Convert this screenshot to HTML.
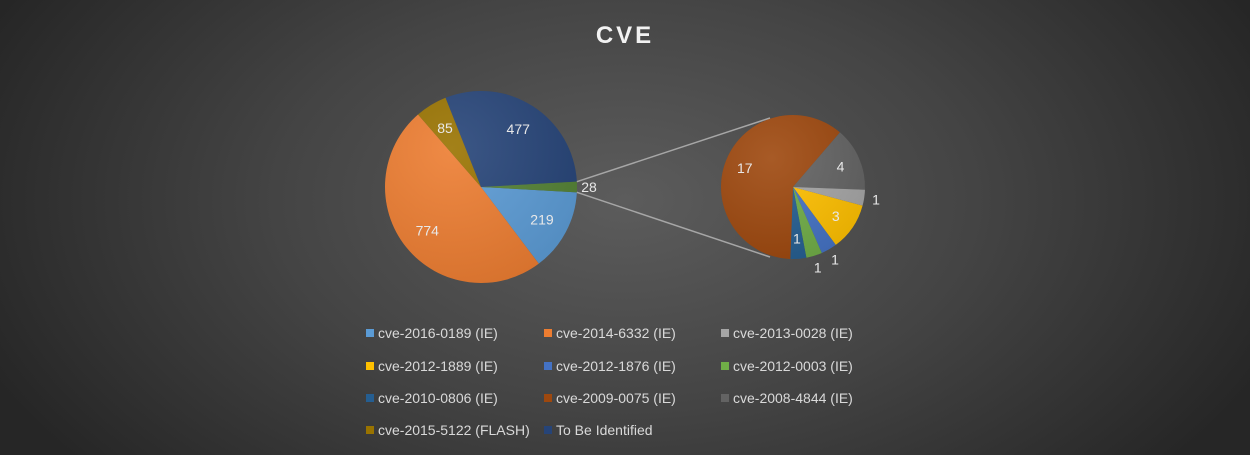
<!DOCTYPE html>
<html><head><meta charset="utf-8"><style>
html,body{margin:0;padding:0}
body{width:1250px;height:455px;overflow:hidden;font-family:"Liberation Sans",sans-serif;background:radial-gradient(ellipse 700px 420px at 625px 200px,#5c5c5c 0%,#444 50%,#262626 100%)}
svg{position:absolute;left:0;top:0}
</style></head><body>
<svg id="chart" width="1250" height="455">
<defs>
<radialGradient id="shine" cx="0.35" cy="0.3" r="0.8"><stop offset="0" stop-color="#fff" stop-opacity="0.1"/><stop offset="1" stop-color="#000" stop-opacity="0.1"/></radialGradient>
</defs>
<text x="625" y="43" text-anchor="middle" font-size="24" font-weight="bold" fill="#f2f2f2" letter-spacing="3">CVE</text>
<g id="main"></g><g id="sec"></g><g id="legend"></g>
</svg>
<script>
const mainLabels=["cve-2016-0189 (IE)","cve-2014-6332 (IE)","cve-2015-5122 (FLASH)","To Be Identified","Other"];
const mainValues=[219,774,85,477,28];
const mainColors=["#5B9BD5","#ED7D31","#997300","#264478","#548235"];
const secLabels=["cve-2012-1889 (IE)","cve-2012-1876 (IE)","cve-2012-0003 (IE)","cve-2010-0806 (IE)","cve-2009-0075 (IE)","cve-2008-4844 (IE)","cve-2013-0028 (IE)"];
const secValues=[3,1,1,1,17,4,1];
const secColors=["#FFC000","#4472C4","#70AD47","#255E91","#9E480E","#636363","#A5A5A5"];
const legendLabels=["cve-2016-0189 (IE)","cve-2014-6332 (IE)","cve-2013-0028 (IE)","cve-2012-1889 (IE)","cve-2012-1876 (IE)","cve-2012-0003 (IE)","cve-2010-0806 (IE)","cve-2009-0075 (IE)","cve-2008-4844 (IE)","cve-2015-5122 (FLASH)","To Be Identified"];
const legendColors=["#5B9BD5","#ED7D31","#A5A5A5","#FFC000","#4472C4","#70AD47","#255E91","#9E480E","#636363","#997300","#264478"];
const NS="http://www.w3.org/2000/svg";
function mk(t,a,p){const e=document.createElementNS(NS,t);for(const k in a)e.setAttribute(k,a[k]);p.appendChild(e);return e;}
function pt(cx,cy,r,d){const a=d*Math.PI/180;return [cx+r*Math.cos(a),cy+r*Math.sin(a)];}
function pie(g,cx,cy,r,vals,cols,labels,start,name,outsideSet){
 const tot=vals.reduce((a,b)=>a+b,0);let a0=start;const res=[];
 vals.forEach((v,i)=>{const sw=v/tot*360,a1=a0+sw;const p0=pt(cx,cy,r,a0),p1=pt(cx,cy,r,a1);
  const p=mk('path',{d:`M${cx},${cy}L${p0[0]},${p0[1]}A${r},${r} 0 ${sw>180?1:0} 1 ${p1[0]},${p1[1]}Z`,fill:cols[i],stroke:'none'},g);
  
  
  res.push([a0,a1,v,out=outsideSet.includes(i)]);a0=a1;});
 const o=mk('circle',{cx:cx,cy:cy,r:r,fill:'url(#shine)'},g);
 
 
 res.forEach(s=>{const mid=(s[0]+s[1])/2;const lp=pt(cx,cy,s[3]?r+12:r*0.72,mid);
  const t=mk('text',{x:lp[0],y:lp[1]+5,'text-anchor':'middle','font-size':14,fill:'#e8e8e8'},g);t.textContent=s[2];
  
  });
 return res;}
var out;
const mg=document.getElementById('main');
const mt=mainValues.reduce((a,b)=>a+b,0);
const mr=pie(mg,481,187,96,mainValues,mainColors,mainLabels,mainValues[4]/mt*180,'main-pie',[4]);
const sg=document.getElementById('sec');
pie(sg,793,187,72,secValues,secColors,secLabels,15,'secondary-pie',[1,2,6]);
const oth=mr[4];const a=pt(481,187,96,oth[0]),b=pt(481,187,96,oth[1]);
const l1=mk('line',{x1:a[0],y1:a[1],x2:770,y2:118,stroke:'#a6a6a6','stroke-width':1.5},sg);


const l2=mk('line',{x1:b[0],y1:b[1],x2:770,y2:257,stroke:'#a6a6a6','stroke-width':1.5},sg);


const lg=document.getElementById('legend');
const colX=[366,544,721],rowY=[334,367,399,431];
legendLabels.forEach((s,i)=>{const x=colX[i%3],y=rowY[Math.floor(i/3)];
 const e=mk('g',{},lg);
 
 
 mk('rect',{x:x,y:y-5,width:8,height:8,fill:legendColors[i]},e);
 const t=mk('text',{x:x+12,y:y+4,'font-size':14,fill:'#d9d9d9'},e);t.textContent=s;});
</script>
</body></html>
